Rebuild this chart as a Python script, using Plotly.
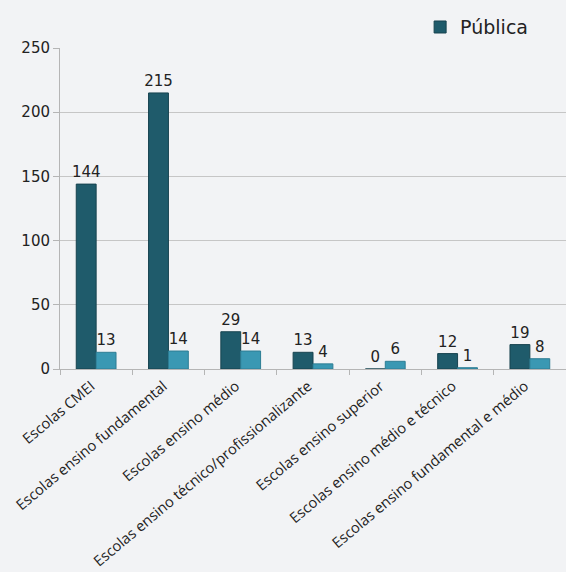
import plotly.graph_objects as go

# Dados
categorias = [
    "Escolas CMEI",
    "Escolas ensino fundamental",
    "Escolas ensino médio",
    "Escolas ensino técnico/profissionalizante",
    "Escolas ensino superior",
    "Escolas ensino médio e técnico",
    "Escolas ensino fundamental e médio",
]
publica = [144, 215, 29, 13, 0, 12, 19]
privada = [13, 14, 14, 4, 6, 1, 8]
y_ticks = [0, 50, 100, 150, 200, 250]

fig = go.Figure()

fig.add_trace(go.Bar(
    x=categorias,
    y=publica,
    name="Pública",
    marker=dict(color="#1f5b6b", line=dict(color="#17434f", width=1)),
    text=publica,
    textposition="outside",
    constraintext="none",
    cliponaxis=False,
    textfont=dict(family="DejaVu Sans", size=15, color="#222222"),
))

fig.add_trace(go.Bar(
    x=categorias,
    y=privada,
    name="Privada",
    showlegend=False,
    marker=dict(color="#3a98b3", line=dict(color="#2d7d94", width=1)),
    text=privada,
    textposition="outside",
    constraintext="none",
    cliponaxis=False,
    textfont=dict(family="DejaVu Sans", size=15, color="#222222"),
))

fig.update_layout(
    width=566,
    height=572,
    barmode="group",
    bargap=0.45,
    bargroupgap=0,
    paper_bgcolor="#f2f3f5",
    plot_bgcolor="#f2f3f5",
    margin=dict(l=60, r=0, t=48, b=203),
    showlegend=True,
    legend=dict(
        x=0.935, y=1.065, xanchor="right", yanchor="middle",
        orientation="h",
        font=dict(family="DejaVu Sans", size=19, color="#222222"),
        bgcolor="rgba(0,0,0,0)",
    ),
    font=dict(family="DejaVu Sans", color="#222222"),
)

fig.update_xaxes(
    tickangle=-40,
    tickfont=dict(family="Open Sans", size=14.7, color="#222222"),
    ticklabelshift=-5,
    ticklabelstandoff=2,
    showline=True,
    linecolor="#b5b5b5",
    ticks="outside",
    tickson="boundaries",
    ticklen=5,
    tickcolor="#b5b5b5",
    automargin=False,
)

fig.update_yaxes(
    range=[0, 250],
    tickvals=y_ticks,
    tickfont=dict(family="DejaVu Sans", size=15, color="#222222"),
    showgrid=True,
    gridcolor="#c6c6c6",
    showline=True,
    linecolor="#b5b5b5",
    ticks="outside",
    ticklen=6,
    tickcolor="#b5b5b5",
    zeroline=False,
    automargin=False,
)

fig.write_html("out.html", config={"displayModeBar": False},
               post_script="document.body.style.margin='0';")
